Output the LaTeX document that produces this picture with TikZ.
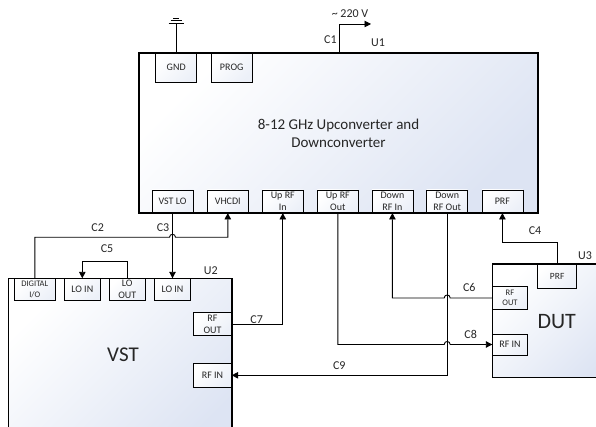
\documentclass[tikz,border=0pt]{standalone}
\usepackage{fontspec}
\setmainfont{Carlito}
\usetikzlibrary{arrows.meta}
\definecolor{boxblue}{HTML}{DDE4F3}
\definecolor{pinblue}{HTML}{ECF0F8}
\definecolor{txt}{HTML}{262626}
\begin{document}
\begin{tikzpicture}[x=1pt,y=-1pt,
  unitfill/.style={fill=white, top color=white, bottom color=boxblue, shading angle=45, draw=none, inner sep=0pt, outer sep=0pt, anchor=north west},
  unitborder/.style={draw=black, line width=1.6pt},
  pinbox/.style={draw=black, line width=0.8pt, top color=white, bottom color=pinblue, shading angle=45,
     inner sep=0pt, outer sep=0pt, align=center, text=txt, font=\fontsize{10}{11.5}\selectfont},
  lbl/.style={inner sep=0pt, text=txt, font=\fontsize{12}{14}\selectfont},
  conn/.style={line width=0.9pt, black},
  arr/.style={conn, -{Triangle[length=6.5pt,width=6.5pt]}}
]
\useasboundingbox (0,0) rectangle (596,427);
\clip (0,0) rectangle (596,427);
\fill[white] (0,0) rectangle (596,427);

% ---------- U1 ----------
\node[unitfill, minimum width=399pt, minimum height=160pt, text=txt, align=center,
      font=\fontsize{15}{18}\selectfont] (u1) at (139,53) {8-12 GHz Upconverter and\\Downconverter};
\node[pinbox, minimum width=41pt, minimum height=29pt] (gnd)  at (176.2,67.5) {GND};
\node[pinbox, minimum width=41pt, minimum height=29pt] (prog) at (231.7,67.5) {PROG};
\node[pinbox, minimum width=41pt, minimum height=23pt] (vstlo)     at (172.5,201.5) {VST LO};
\node[pinbox, minimum width=41pt, minimum height=23pt] (vhcdi)     at (227.8,201.5) {VHCDI};
\node[pinbox, minimum width=41pt, minimum height=23pt] (uprfin)    at (282.8,201.5) {Up RF\\In};
\node[pinbox, minimum width=41pt, minimum height=23pt] (uprfout)   at (337.8,201.5) {Up RF\\Out};
\node[pinbox, minimum width=41pt, minimum height=23pt] (downrfin)  at (392.4,201.5) {Down\\RF In};
\node[pinbox, minimum width=41pt, minimum height=23pt] (downrfout) at (447.2,201.5) {Down\\RF Out};
\node[pinbox, minimum width=41pt, minimum height=23pt] (prf)       at (502.4,201.5) {PRF};
\draw[unitborder] (u1.north west) rectangle (u1.south east);

% ---------- VST (U2) ----------
\node[unitfill, minimum width=223.4pt, minimum height=180pt] (vst) at (8.3,278.3) {};
\node[pinbox, minimum width=41.7pt, minimum height=22.4pt, font=\fontsize{8.5}{11}\selectfont] (dig) at (34.8,289.5) {DIGITAL\\I/O};
\node[pinbox, minimum width=36.7pt, minimum height=22.4pt] (loin1) at (82.3,289.5) {LO IN};
\node[pinbox, minimum width=36.7pt, minimum height=22.4pt] (loout) at (127.3,289.5) {LO\\OUT};
\node[pinbox, minimum width=36.7pt, minimum height=22.4pt] (loin2) at (172.5,289.5) {LO IN};
\node[pinbox, minimum width=38.4pt, minimum height=23pt] (rfout) at (212.5,324.2) {RF\\OUT};
\node[pinbox, minimum width=38.4pt, minimum height=24pt] (rfin)  at (212.5,375.3) {RF IN};
\draw[unitborder] (vst.north west) rectangle (vst.south east);
\node[inner sep=0pt, text=txt, font=\fontsize{21}{24}\selectfont] (vstlbl) at (123,355) {VST};

% ---------- DUT (U3) ----------
\node[unitfill, minimum width=130pt, minimum height=113pt] (dut) at (492.3,264.3) {};
\node[pinbox, minimum width=39pt, minimum height=24pt, font=\fontsize{9.5}{11}\selectfont] (dprf) at (557.2,276.3) {PRF};
\node[pinbox, minimum width=35.4pt, minimum height=22.6pt, font=\fontsize{8.5}{10.5}\selectfont] (drfout) at (510,298) {RF\\OUT};
\node[pinbox, minimum width=35.4pt, minimum height=21pt] (drfin) at (510,344.5) {RF IN};
\draw[unitborder] (dut.north west) rectangle (dut.south east);
\node[inner sep=0pt, text=txt, font=\fontsize{22}{24}\selectfont] (dutlbl) at (556.7,321.7) {DUT};

% ---------- ground and mains ----------
\coordinate (gtop) at (176.2,23);
\draw[conn] (gnd.north) -- (gtop);
\draw[conn] ([xshift=-7.5pt]gtop) -- ([xshift=7.5pt]gtop);
\draw[conn] ([xshift=-5.5pt,yshift=2.2pt]gtop) -- ([xshift=5.5pt,yshift=2.2pt]gtop);
\draw[conn] ([xshift=-3pt,yshift=4.4pt]gtop) -- ([xshift=3pt,yshift=4.4pt]gtop);

\coordinate (c1top) at (339,24);
\coordinate (mains) at (371,24);
\draw[arr] (u1.north -| c1top) -- (c1top) -- (mains);

% ---------- connectors ----------
\coordinate (c2y) at (0,237.3);
\coordinate (h2) at (vstlo.south |- c2y);
\draw[arr] (dig.north) -- (dig.north |- c2y) -- ([xshift=-3pt]h2)
   .. controls ([xshift=-3pt,yshift=4pt]h2) and ([xshift=3pt,yshift=4pt]h2) .. ([xshift=3pt]h2)
   -| (vhcdi.south);

\draw[arr] (vstlo.south) -- (loin2.north);

\coordinate (c5y) at (0,261.7);
\draw[arr] (loout.north) -- (loout.north |- c5y) -| (loin1.north);

\draw[arr] (rfout.east) -| (uprfin.south);

\draw[arr] (downrfout.south) |- (rfin.east);

\coordinate (c4y) at (0,242.3);
\draw[arr] (dprf.north) -- (dprf.north |- c4y) -| (prf.south);

\coordinate (h6) at (downrfout.south |- drfout.west);
\draw[arr] (drfout.west) -- ([xshift=3pt]h6)
   .. controls ([xshift=3pt,yshift=4pt]h6) and ([xshift=-3pt,yshift=4pt]h6) .. ([xshift=-3pt]h6)
   -| (downrfin.south);

\coordinate (h8) at (downrfout.south |- drfin.west);
\draw[arr] (uprfout.south) |- ([xshift=-3pt]h8)
   .. controls ([xshift=-3pt,yshift=4pt]h8) and ([xshift=3pt,yshift=4pt]h8) .. ([xshift=3pt]h8)
   -- (drfin.west);

% ---------- labels ----------
\node[lbl] (l220) at (350,14) {\char"7E\ 220 V};
\node[lbl] (lc1) at (330.4,40) {C1};
\node[lbl] (lu1) at (378,43) {U1};
\node[lbl] (lc2) at (97.7,228) {C2};
\node[lbl] (lc3) at (163,228) {C3};
\node[lbl] (lc5) at (107,249) {C5};
\node[lbl] (lu2) at (210.7,270.7) {U2};
\node[lbl] (lc7) at (256.7,319.3) {C7};
\node[lbl] (lc9) at (339.3,365.7) {C9};
\node[lbl] (lc6) at (469.3,287.3) {C6};
\node[lbl] (lc8) at (470.7,334.3) {C8};
\node[lbl] (lc4) at (535,231) {C4};
\node[lbl] (lu3) at (585,256) {U3};
\end{tikzpicture}
\end{document}
